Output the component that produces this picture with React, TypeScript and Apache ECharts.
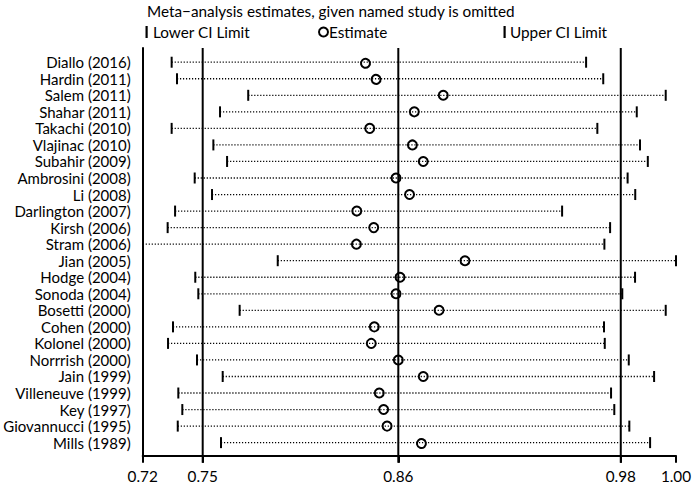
import React, { useEffect, useRef } from "react";
import * as echarts from "echarts";

const studies = [
  "Diallo (2016)", "Hardin (2011)", "Salem (2011)", "Shahar (2011)", "Takachi (2010)",
  "Vlajinac (2010)", "Subahir (2009)", "Ambrosini (2008)", "Li (2008)", "Darlington (2007)",
  "Kirsh (2006)", "Stram (2006)", "Jian (2005)", "Hodge (2004)", "Sonoda (2004)",
  "Bosetti (2000)", "Cohen (2000)", "Kolonel (2000)", "Norrrish (2000)", "Jain (1999)",
  "Villeneuve (1999)", "Key (1997)", "Giovannucci (1995)", "Mills (1989)",
];
const lowerCI = [
  0.7352, 0.7380, 0.7754, 0.7606, 0.7352, 0.7571, 0.7643, 0.7473, 0.7564, 0.7370,
  0.7331, 0.7100, 0.7909, 0.7476, 0.7492, 0.7709, 0.7359, 0.7333, 0.7485, 0.7620,
  0.7387, 0.7408, 0.7384, 0.7611,
];
const estimate = [
  0.8369, 0.8425, 0.8778, 0.8626, 0.8392, 0.8616, 0.8673, 0.8530, 0.8601, 0.8324,
  0.8413, 0.8322, 0.8892, 0.8551, 0.8530, 0.8756, 0.8416, 0.8400, 0.8542, 0.8673,
  0.8442, 0.8465, 0.8483, 0.8663,
];
const upperCI = [
  0.9528, 0.9618, 0.9946, 0.9794, 0.9587, 0.9811, 0.9852, 0.9746, 0.9786, 0.9402,
  0.9654, 0.9624, 1.0000, 0.9785, 0.9718, 0.9946, 0.9622, 0.9626, 0.9752, 0.9885,
  0.9659, 0.9676, 0.9755, 0.9864,
];
const tickValues = [0.72, 0.7515, 0.8542, 0.971, 1.0];
const tickLabels = ["0.72", "0.75", "0.86", "0.98", "1.00"];
const refLines = [0.7515, 0.8542, 0.971];

const FONT = "Lato";
const FS = 15.3;
const X_MIN = 0.72;
const X_MAX = 1.0;

export default function App() {
  const ref = useRef<HTMLDivElement>(null);
  useEffect(() => {
    if (!ref.current) return;
    const chart = echarts.init(ref.current, null, { renderer: "svg" });
    const data = studies.map((_, i) => [i, lowerCI[i], estimate[i], upperCI[i]]);
    const renderItem = (params: any, api: any) => {
      const i = api.value(0);
      const lo = api.value(1);
      const est = api.value(2);
      const hi = api.value(3);
      const cs = params.coordSys;
      const pLo = api.coord([Math.max(lo, X_MIN), i]);
      const pEst = api.coord([est, i]);
      const pHi = api.coord([Math.min(hi, X_MAX), i]);
      const y = pEst[1];
      const children: any[] = [
        {
          type: "line",
          shape: { x1: Math.max(pLo[0], cs.x), y1: y, x2: pHi[0], y2: y },
          style: { stroke: "#000", lineWidth: 1.3, lineDash: [1.2, 1.8] },
        },
      ];
      if (lo >= X_MIN) {
        children.push({
          type: "line",
          shape: { x1: pLo[0], y1: y - 5.5, x2: pLo[0], y2: y + 5.5 },
          style: { stroke: "#000", lineWidth: 2 },
        });
      }
      children.push({
        type: "line",
        shape: { x1: pHi[0], y1: y - 5.5, x2: pHi[0], y2: y + 5.5 },
        style: { stroke: "#000", lineWidth: 2 },
      });
      children.push({
        type: "circle",
        shape: { cx: pEst[0], cy: y, r: 4.5 },
        style: { fill: "none", stroke: "#000", lineWidth: 2 },
      });
      return { type: "group", children };
    };
    const renderRef = (params: any, api: any) => {
      const cs = params.coordSys;
      const p = api.coord([api.value(0), 0]);
      return {
        type: "line",
        shape: { x1: p[0], y1: cs.y, x2: p[0], y2: cs.y + cs.height + 7 },
        style: { stroke: "#000", lineWidth: 2 },
      };
    };
    chart.setOption({
      animation: false,
      textStyle: { fontFamily: FONT },
      grid: { left: 142.7, right: 21, top: 48, bottom: 28.3, containLabel: false },
      xAxis: {
        type: "value",
        min: X_MIN,
        max: X_MAX,
        axisLine: { show: true, onZero: false, lineStyle: { color: "#000", width: 2 } },
        axisTick: { show: true, customValues: tickValues, length: 7, lineStyle: { color: "#000", width: 2 } },
        axisLabel: {
          customValues: tickValues,
          color: "#000",
          fontSize: FS,
          fontFamily: FONT,
          margin: 13,
          formatter: (v: number) => {
            let best = 0;
            tickValues.forEach((t, k) => {
              if (Math.abs(t - v) < Math.abs(tickValues[best] - v)) best = k;
            });
            return tickLabels[best];
          },
        },
        splitLine: { show: false },
      },
      yAxis: {
        type: "value",
        inverse: true,
        min: -0.86,
        max: 23.79,
        axisLine: { show: true, onZero: false, lineStyle: { color: "#000", width: 2 } },
        axisTick: { show: false },
        splitLine: { show: false },
        axisLabel: {
          customValues: studies.map((_, i) => i),
          color: "#000",
          fontSize: 15,
          fontFamily: FONT,
          margin: 12,
          formatter: (v: number) => studies[Math.round(v)] ?? "",
        },
      },
      series: [
        {
          type: "custom",
          renderItem: renderRef,
          data: refLines.map((v) => [v]),
          clip: false,
          encode: { x: 0 },
        },
        {
          type: "custom",
          renderItem,
          data,
          clip: false,
          encode: { x: [1, 2, 3], y: 0 },
        },
      ],
      graphic: [
        {
          type: "text",
          x: 147,
          y: 11,
          style: {
            text: "Meta\u2212analysis estimates, given named study is omitted",
            fontSize: FS,
            fontFamily: FONT,
            fill: "#000",
            verticalAlign: "middle",
          },
        },
        { type: "rect", shape: { x: 145.5, y: 26, width: 2.2, height: 12 }, style: { fill: "#000" } },
        {
          type: "text",
          x: 153,
          y: 32,
          style: { text: "Lower CI Limit", fontSize: FS, fontFamily: FONT, fill: "#000", verticalAlign: "middle" },
        },
        { type: "circle", shape: { cx: 323.5, cy: 32, r: 4.5 }, style: { fill: "none", stroke: "#000", lineWidth: 2 } },
        {
          type: "text",
          x: 329,
          y: 32,
          style: { text: "Estimate", fontSize: FS, fontFamily: FONT, fill: "#000", verticalAlign: "middle" },
        },
        { type: "rect", shape: { x: 503.5, y: 26, width: 2.2, height: 12 }, style: { fill: "#000" } },
        {
          type: "text",
          x: 510,
          y: 32,
          style: { text: "Upper CI Limit", fontSize: FS, fontFamily: FONT, fill: "#000", verticalAlign: "middle" },
        },
      ],
    });
    return () => chart.dispose();
  }, []);
  return <div ref={ref} style={{ position: "absolute", left: 0, top: 0, width: 697, height: 484 }} />;
}
